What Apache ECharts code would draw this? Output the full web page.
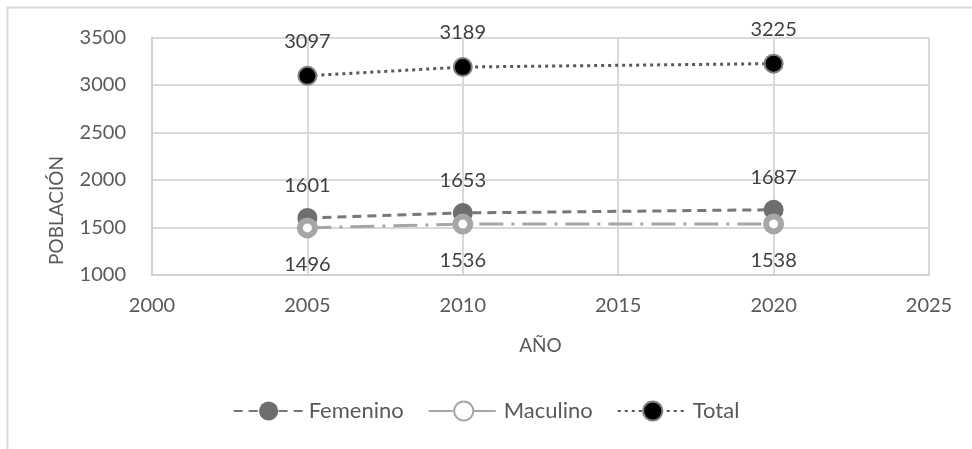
<!DOCTYPE html>
<html>
<head>
<meta charset="utf-8">
<script src="https://cdn.jsdelivr.net/npm/echarts@6/dist/echarts.min.js"></script>
<style>
  html, body { margin: 0; padding: 0; background: #fff; }
  #chart { width: 972px; height: 449px; }
</style>
</head>
<body>
<div id="chart"></div>
<script>
// Population by year and sex
const years = [2005, 2010, 2020];
const femenino = [1601, 1653, 1687];
const maculino = [1496, 1536, 1538];
const total = [3097, 3189, 3225];
const yTicks = [1000, 1500, 2000, 2500, 3000, 3500];
const xTicks = [2000, 2005, 2010, 2015, 2020, 2025];

const FONT = 'Lato, "Open Sans", sans-serif';
const TEXT = '#595959';

function pairs(vals) {
  return years.map((y, i) => [y, vals[i]]);
}

const chart = echarts.init(document.getElementById('chart'));

chart.setOption({
  animation: false,
  textStyle: { fontFamily: FONT },
  graphic: [
    {
      type: 'rect',
      shape: { x: 7.5, y: 7.5, width: 1200, height: 800 },
      style: { fill: 'none', stroke: '#d9d9d9', lineWidth: 2 },
      silent: true
    },
    {
      type: 'text',
      left: 47,
      top: 156,
      rotation: Math.PI / 2,
      style: { text: 'POBLACIÓN', fill: TEXT, font: '19px ' + FONT },
      silent: true
    }
  ],
  grid: { left: 152, right: 43, top: 37.5, bottom: 174 },
  legend: {
    bottom: 22,
    left: 'center',
    itemWidth: 70,
    itemHeight: 24,
    itemGap: 24,
    textStyle: { color: TEXT, fontSize: 22, fontFamily: FONT },
    data: ['Femenino', 'Maculino', 'Total']
  },
  xAxis: {
    type: 'value',
    min: xTicks[0],
    max: xTicks[xTicks.length - 1],
    interval: 5,
    name: 'AÑO',
    nameLocation: 'middle',
    nameGap: 61,
    nameTextStyle: { color: TEXT, fontSize: 19, fontFamily: FONT },
    axisLine: { show: true, lineStyle: { color: '#d0d0d0', width: 2 } },
    axisTick: { show: false },
    axisLabel: { color: TEXT, fontSize: 20, margin: 21, fontFamily: FONT, formatter: v => String(v) },
    splitLine: { show: true, lineStyle: { color: '#d9d9d9', width: 2 } }
  },
  yAxis: {
    type: 'value',
    min: yTicks[0],
    max: yTicks[yTicks.length - 1],
    interval: 500,
    axisLine: { show: true, lineStyle: { color: '#d0d0d0', width: 2 } },
    axisTick: { show: false },
    axisLabel: { color: TEXT, fontSize: 20, margin: 26, fontFamily: FONT, formatter: v => String(v) },
    splitLine: { show: true, lineStyle: { color: '#d9d9d9', width: 2 } }
  },
  series: [
    {
      name: 'Femenino',
      type: 'line',
      data: pairs(femenino),
      color: '#6e6e6e',
      symbol: 'circle',
      symbolSize: 20,
      lineStyle: { color: '#777777', width: 3, type: [9, 6] },
      itemStyle: { color: '#6e6e6e' },
      label: {
        show: true, position: 'top', distance: 12,
        color: '#404040', fontSize: 20, fontFamily: FONT
      },
      z: 3
    },
    {
      name: 'Maculino',
      type: 'line',
      data: pairs(maculino),
      color: '#a6a6a6',
      symbol: 'circle',
      symbolSize: 15,
      lineStyle: { color: '#a6a6a6', width: 3, type: [24, 8, 3, 8] },
      itemStyle: { color: '#ffffff', borderColor: '#a6a6a6', borderWidth: 6 },
      label: {
        show: true, position: 'bottom', distance: 16,
        color: '#404040', fontSize: 20, fontFamily: FONT
      },
      z: 4
    },
    {
      name: 'Total',
      type: 'line',
      data: pairs(total),
      color: '#000000',
      symbol: 'circle',
      symbolSize: 18,
      lineStyle: { color: '#595959', width: 3, type: [3, 4] },
      itemStyle: { color: '#000000', borderColor: '#7f7f7f', borderWidth: 2 },
      label: {
        show: true, position: 'top', distance: 14,
        color: '#404040', fontSize: 20, fontFamily: FONT
      },
      z: 5
    }
  ]
});
</script>
</body>
</html>
